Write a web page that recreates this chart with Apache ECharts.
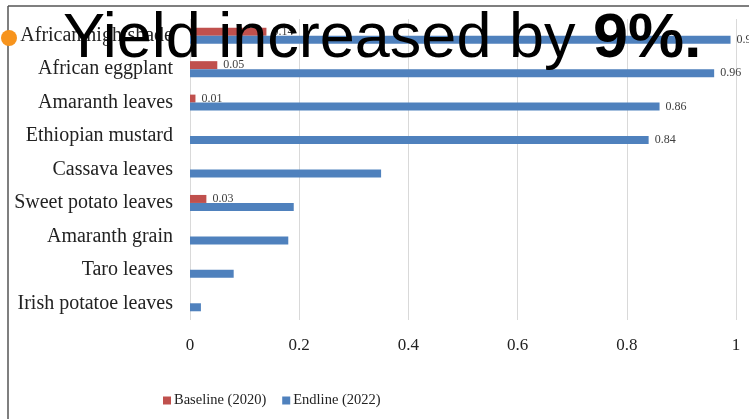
<!DOCTYPE html>
<html>
<head>
<meta charset="utf-8">
<script src="https://cdn.jsdelivr.net/npm/echarts@6/dist/echarts.min.js"></script>
<style>
  html, body { margin: 0; padding: 0; background: #fff; }
  #chart { width: 749px; height: 419px; }
</style>
</head>
<body>
<div id="chart"></div>
<script>
// crops, top to bottom
var categories = ['African nightshade', 'African eggplant', 'Amaranth leaves', 'Ethiopian mustard',
  'Cassava leaves', 'Sweet potato leaves', 'Amaranth grain', 'Taro leaves', 'Irish potatoe leaves'];
var baseline = [0.14, 0.05, 0.01, 0, 0, 0.03, 0, 0, 0];
var endline = [0.99, 0.96, 0.86, 0.84, 0.35, 0.19, 0.18, 0.08, 0.02];
// only these values carry a data label in the original
var baselineLabels = ['0.14', '0.05', '0.01', '', '', '0.03', '', '', ''];
var endlineLabels = ['0.99', '0.96', '0.86', '0.84', '', '', '', '', ''];
var seriesNames = ['Baseline (2020)', 'Endline (2022)'];

var chart = echarts.init(document.getElementById('chart'));
var serif = '"Liberation Serif", "Times New Roman", serif';
var sans = '"Liberation Sans", Arial, sans-serif';

function barLabel (labels) {
  return {
    show: true,
    position: 'right',
    distance: 6,
    fontFamily: serif,
    fontSize: 12,
    color: '#404040',
    formatter: function (p) { return labels[p.dataIndex]; }
  };
}

var option = {
  animation: false,
  title: {
    text: '{a|Yield increased by }{b|9%.}',
    left: 58,
    top: 3,
    z: 10,
    textStyle: {
      fontWeight: 'normal',
      rich: {
        a: { fontFamily: sans, fontSize: 63, fontWeight: 'normal', color: '#000' },
        b: { fontFamily: sans, fontSize: 63, fontWeight: 'bold', color: '#000' }
      }
    }
  },
  grid: { left: 190, right: 13, top: 19, bottom: 99 },
  legend: {
    data: seriesNames,
    left: 158,
    top: 388,
    icon: 'rect',
    itemWidth: 8,
    itemHeight: 8,
    itemGap: 16,
    textStyle: { fontFamily: serif, fontSize: 14.5, color: '#222', padding: [0, 0, 0, -2] }
  },
  xAxis: {
    type: 'value',
    min: 0,
    max: 1,
    interval: 0.2,
    axisLine: { show: false },
    axisTick: { show: false },
    splitLine: { lineStyle: { color: '#d9d9d9', width: 1 } },
    axisLabel: {
      margin: 17,
      fontFamily: serif,
      fontSize: 17,
      color: '#222',
      formatter: function (v) { return String(Math.round(v * 10) / 10); }
    }
  },
  yAxis: {
    type: 'category',
    inverse: true,
    data: categories,
    axisLine: { show: false },
    axisTick: { show: false },
    axisLabel: { margin: 17, fontFamily: serif, fontSize: 20, color: '#222' }
  },
  series: [
    {
      name: seriesNames[0],
      type: 'bar',
      data: baseline,
      barWidth: 8,
      barGap: '0%',
      itemStyle: { color: '#C0504D' },
      label: barLabel(baselineLabels)
    },
    {
      name: seriesNames[1],
      type: 'bar',
      data: endline,
      barWidth: 8,
      itemStyle: { color: '#4F81BD' },
      label: barLabel(endlineLabels)
    }
  ],
  graphic: [
    { type: 'line', shape: { x1: 8, y1: 6, x2: 749, y2: 6 }, style: { stroke: '#555', lineWidth: 1.5 }, z: 20 },
    { type: 'line', shape: { x1: 8, y1: 6, x2: 8, y2: 419 }, style: { stroke: '#555', lineWidth: 1.5 }, z: 20 },
    { type: 'circle', shape: { cx: 9, cy: 38, r: 8 }, style: { fill: '#F7941D' }, z: 21 }
  ]
};
chart.setOption(option);
</script>
</body>
</html>
